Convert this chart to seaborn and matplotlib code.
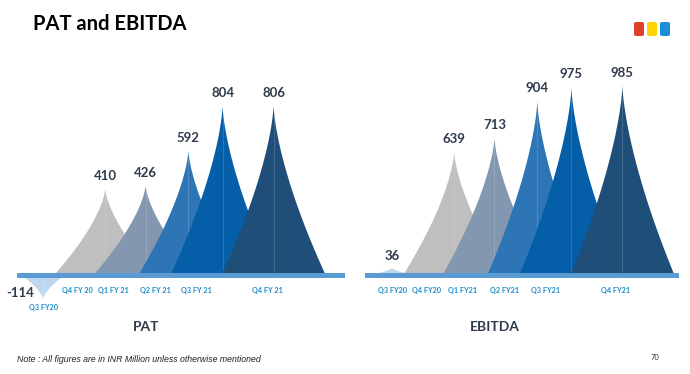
import numpy as np
import seaborn as sns
import matplotlib.pyplot as plt
from matplotlib.patches import FancyBboxPatch

# 数据
pat_labels = ['Q3 FY20', 'Q4 FY 20', 'Q1 FY 21', 'Q2 FY 21', 'Q3 FY 21', 'Q4 FY 21']
ebitda_labels = ['Q3 FY20', 'Q4 FY20', 'Q1 FY21', 'Q2 FY21', 'Q3 FY21', 'Q4 FY21']
pat = [-114, 410, 426, 592, 804, 806]
ebitda = [36, 639, 713, 904, 975, 985]

# 颜色
colors = ['#bdd7ee', '#bfbfbf', '#8497b0', '#2e75b6', '#045ea8', '#1f4e79']

# 布局（尖峰位置/半宽/标签位置）
peak_pos = [0, 1.22, 2.01, 2.85, 3.52, 4.52]
half_w = [0.43, 1.0, 1.02, 0.98, 1.02, 1.02]
tick_pos = [0.01, 0.68, 1.38, 2.21, 3.01, 4.39]

sns.set_theme(style='white')
plt.rcParams['font.family'] = ['Lato', 'DejaVu Sans']

W, H = 690, 374
fig = plt.figure(figsize=(W / 100, H / 100), dpi=100)


def px_axes(left, right, top, bottom):
    return fig.add_axes([left / W, 1 - bottom / H, (right - left) / W, (bottom - top) / H])


def draw_panel(ax, vals, labels, xlim, ylim):
    t = np.linspace(0, 1, 120)
    for i, (v, c) in enumerate(zip(vals, colors)):
        hw = half_w[i] * (1 - t) ** 1.5
        y = v * t
        xs = np.r_[peak_pos[i] - hw, (peak_pos[i] + hw)[::-1]]
        ys = np.r_[y, y[::-1]]
        ax.fill(xs, ys, color=c, lw=0, zorder=2 + i)
        ax.plot([peak_pos[i], peak_pos[i]], [0, v * 0.93], color='white', alpha=0.15, lw=0.8, zorder=2 + i)
        if v < 0:
            ax.annotate(f'{v}', (peak_pos[i], v), xytext=(-16.5, 4.5), textcoords='offset points',
                        ha='center', va='center', fontsize=9.5, fontweight='bold', color='#2f3b4c')
            ax.annotate(labels[i], (tick_pos[i], v), xytext=(0, -6), textcoords='offset points',
                        ha='center', va='center', fontsize=5.2, fontweight='bold', color='#1a8bc9')
        else:
            ax.annotate(f'{v}', (peak_pos[i], v), xytext=(0, 6), textcoords='offset points',
                        ha='center', va='baseline', fontsize=9.5, fontweight='bold', color='#2f3b4c')
            ax.annotate(labels[i], (tick_pos[i], 0), xytext=(0, -11.5), textcoords='offset points',
                        ha='center', va='center', fontsize=5.2, fontweight='bold', color='#1a8bc9')
    ax.axhline(0, color='#5b9bd5', lw=3.6, zorder=20)
    ax.set_xlim(*xlim)
    ax.set_ylim(*ylim)
    ax.axis('off')


# PAT
ax1 = px_axes(17, 345, 275 - 950 * 0.211, 275 + 150 * 0.211)
draw_panel(ax1, pat, pat_labels, (-0.51, 5.92), (-150, 950))
# EBITDA
ax2 = px_axes(365, 679, 275 - 1100 * 0.193, 275 + 150 * 0.193)
draw_panel(ax2, ebitda, ebitda_labels, (-0.53, 5.63), (-150, 1100))

fig.text(146 / W, 1 - 327 / H, 'PAT', ha='center', va='center', fontsize=10, fontweight='bold', color='#2f3b4c')
fig.text(495 / W, 1 - 327 / H, 'EBITDA', ha='center', va='center', fontsize=10, fontweight='bold', color='#2f3b4c')

fig.text(33 / W, 1 - 24 / H, 'PAT and EBITDA', ha='left', va='center', fontsize=14.5, fontweight='bold', color='black')

for x0, c in zip([634, 647, 660], ['#e0402a', '#ffd400', '#1a8fd8']):
    fig.patches.append(FancyBboxPatch((x0 / W, 1 - 36 / H), 10 / W, 14 / H,
                                      boxstyle='round,pad=0,rounding_size=0.004',
                                      transform=fig.transFigure, color=c, lw=0))

fig.text(17 / W, 1 - 360 / H, 'Note : All figures are in INR Million unless otherwise mentioned',
         ha='left', va='center', fontsize=6.3, style='italic', family=['Liberation Sans', 'DejaVu Sans'], color='#222222')
fig.text(655 / W, 1 - 358 / H, '70', ha='center', va='center', fontsize=5.5, color='#333333')

plt.savefig('out.png', dpi=100)
